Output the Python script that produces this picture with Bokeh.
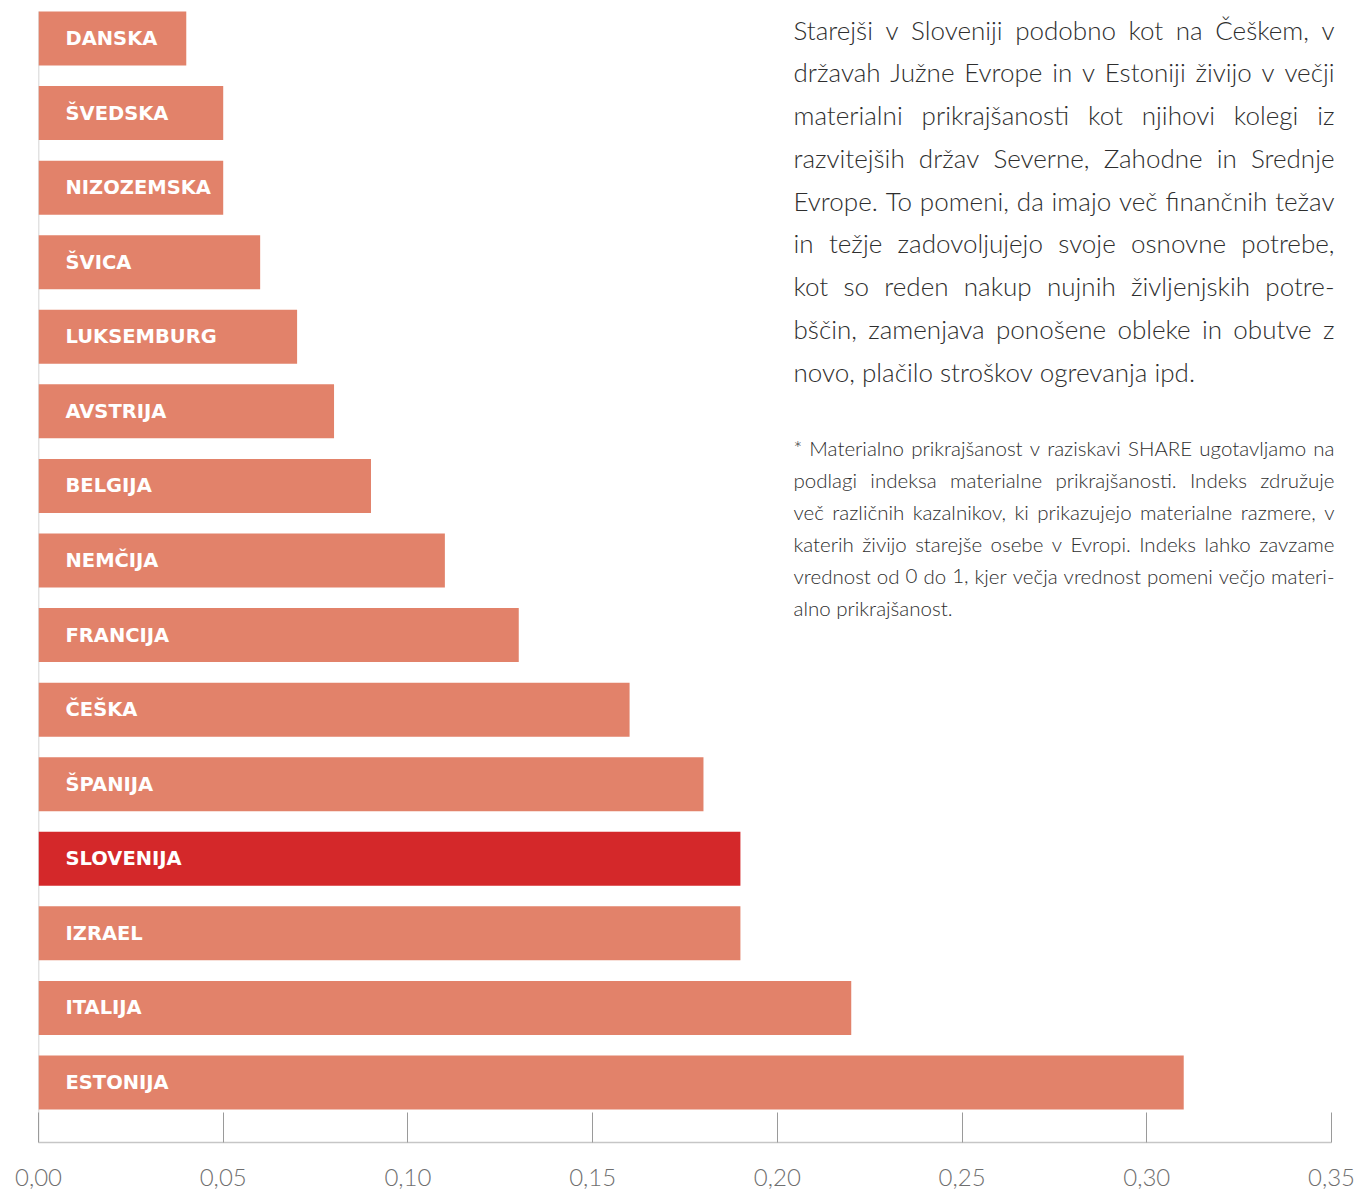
import os
import glob
import subprocess

from bokeh.plotting import figure
from bokeh.models import Range1d, FixedTicker, ColumnDataSource
from bokeh.core.properties import value
from bokeh.embed import file_html
from bokeh.resources import INLINE

# ---------------- data ----------------
countries = ["DANSKA", "ŠVEDSKA", "NIZOZEMSKA", "ŠVICA", "LUKSEMBURG", "AVSTRIJA",
             "BELGIJA", "NEMČIJA", "FRANCIJA", "ČEŠKA", "ŠPANIJA", "SLOVENIJA",
             "IZRAEL", "ITALIJA", "ESTONIJA"]
values = [0.04, 0.05, 0.05, 0.06, 0.07, 0.08, 0.09, 0.11, 0.13, 0.16, 0.18, 0.19,
          0.19, 0.22, 0.31]
highlight = "SLOVENIJA"

tick_values = [0.0, 0.05, 0.1, 0.15, 0.2, 0.25, 0.3, 0.35]
tick_labels = ["0,00", "0,05", "0,10", "0,15", "0,20", "0,25", "0,30", "0,35"]

paragraph_lines = [
    "Starejši v Sloveniji podobno kot na Češkem, v",
    "državah Južne Evrope in v Estoniji živijo v večji",
    "materialni prikrajšanosti kot njihovi kolegi iz",
    "razvitejših držav Severne, Zahodne in Srednje",
    "Evrope. To pomeni, da imajo več finančnih težav",
    "in težje zadovoljujejo svoje osnovne potrebe,",
    "kot so reden nakup nujnih življenjskih potre-",
    "bščin, zamenjava ponošene obleke in obutve z",
    "novo, plačilo stroškov ogrevanja ipd.",
]
footnote_lines = [
    "* Materialno prikrajšanost v raziskavi SHARE ugotavljamo na",
    "podlagi indeksa materialne prikrajšanosti. Indeks združuje",
    "več različnih kazalnikov, ki prikazujejo materialne razmere, v",
    "katerih živijo starejše osebe v Evropi. Indeks lahko zavzame",
    "vrednost od 0 do 1, kjer večja vrednost pomeni večjo materi-",
    "alno prikrajšanost.",
]

# ---------------- styling ----------------
BAR = "#E2826A"
HILITE = "#D4282A"
LABEL_FONT = "DejaVu Sans"
W, H = 1357, 1192
FRAME_L, FRAME_T, FRAME_B = 38, 0, 1142
AXIS_END_PX = 1331
PITCH = 74.57
FIRST_CENTER = 38.0
TEXT_L, TEXT_R = 793, 1334


def fc_file(pattern):
    try:
        r = subprocess.run(["fc-match", "-f", "%{file}", pattern],
                           capture_output=True, text=True, timeout=5)
        p = r.stdout.strip()
        if p and os.path.exists(p):
            return p
    except Exception:
        pass
    return None


# prefer a light weight of Lato for the body copy (closer to the reference)
light_path = fc_file("Lato:style=Light")
if light_path and "light" in os.path.basename(light_path).lower():
    TEXT_FONT = "Lato Light, Lato"
    body_path = light_path
else:
    TEXT_FONT = "Lato"
    body_path = fc_file("Lato:style=Regular")
if not body_path:
    hits = glob.glob("/usr/share/fonts/**/Lato*Regular*.ttf", recursive=True)
    body_path = hits[0] if hits else None


def make_measure(path):
    try:
        from PIL import ImageFont
        f = ImageFont.truetype(path, size=100)
        return lambda s: f.getlength(s) / 100.0
    except Exception:
        return lambda s: len(s) * 0.47


measure = make_measure(body_path)


def fit_size(lines, width, target):
    widest = max(measure(l) for l in lines[:-1])
    return min(target, width / widest)


def justify(lines, left, right, base0, step, size):
    xs, ys, ts = [], [], []
    for i, line in enumerate(lines):
        words = line.split(" ")
        y = base0 + i * step
        widths = [measure(w) * size for w in words]
        if i == len(lines) - 1 or len(words) == 1:
            gap = measure(" ") * size
        else:
            gap = (right - left - sum(widths)) / (len(words) - 1)
        x = left
        for w, wd in zip(words, widths):
            xs.append(x)
            ys.append(y)
            ts.append(w)
            x += wd + gap
    return dict(x=xs, y=ys, text=ts)


# ---------------- figure ----------------
idx = list(range(len(countries)))
y_top = -(FIRST_CENTER - FRAME_T) / PITCH
y_bot = (FRAME_B - FRAME_T - FIRST_CENTER) / PITCH
x_end = tick_values[-1] * (W - FRAME_L) / (AXIS_END_PX - FRAME_L)

p = figure(width=W, height=H, x_range=Range1d(0, x_end), y_range=Range1d(y_bot, y_top),
           output_backend="svg", toolbar_location=None, y_axis_location=None,
           title=None, min_border_left=FRAME_L, min_border_right=0,
           min_border_top=FRAME_T, min_border_bottom=H - FRAME_B)
p.extra_x_ranges = {"px": Range1d(FRAME_L, W)}
p.extra_y_ranges = {"px": Range1d(FRAME_B, FRAME_T)}
p.outline_line_color = None
p.xgrid.visible = False
p.ygrid.visible = False
p.background_fill_color = "white"
p.border_fill_color = "white"

colors = [HILITE if c == highlight else BAR for c in countries]
src = ColumnDataSource(dict(y=idx, v=values, c=colors, name=countries,
                            zero=[0.0] * len(idx)))

bar_h = 54 / PITCH
# left baseline line
p.segment(x0=[0], y0=[-bar_h / 2], x1=[0], y1=[y_bot], line_color="#c6c6c6",
          line_width=1.5)
p.hbar(y="y", left="zero", right="v", height=bar_h, fill_color="c", line_color=None,
       source=src)
p.text(x="zero", y="y", text="name", source=src, x_offset=27, text_baseline="middle",
       text_align="left", text_color="white", text_font=value(LABEL_FONT),
       text_font_style="bold", text_font_size=value("19.5px"))

# x axis
ax = p.xaxis[0]
ax.bounds = (tick_values[0], tick_values[-1])
ax.ticker = FixedTicker(ticks=tick_values)
ax.major_label_overrides = dict(zip(tick_values, tick_labels))
ax.axis_line_color = "#c6c6c6"
ax.axis_line_width = 1.5
ax.major_tick_line_color = "#9a9a9a"
ax.major_tick_line_width = 1
ax.major_tick_in = 30
ax.major_tick_out = 0
ax.minor_tick_line_color = None
ax.major_label_text_font = TEXT_FONT
ax.major_label_text_font_size = "24px"
ax.major_label_text_color = "#6f6f6f"
ax.major_label_standoff = 26

# right-hand text
para_size = fit_size(paragraph_lines, TEXT_R - TEXT_L, 26)
para = justify(paragraph_lines, TEXT_L, TEXT_R, 29, 42.75, para_size)
p.text(x="x", y="y", text="text", source=ColumnDataSource(para), x_range_name="px",
       y_range_name="px", text_font=value(TEXT_FONT),
       text_font_size=value("%.2fpx" % para_size), text_color="#2e2e2e",
       text_baseline="alphabetic", text_align="left")

foot_size = fit_size(footnote_lines, TEXT_R - TEXT_L, 20.5)
foot = justify(footnote_lines, TEXT_L, TEXT_R, 447.5, 32, foot_size)
p.text(x="x", y="y", text="text", source=ColumnDataSource(foot), x_range_name="px",
       y_range_name="px", text_font=value(TEXT_FONT),
       text_font_size=value("%.2fpx" % foot_size), text_color="#2e2e2e",
       text_baseline="alphabetic", text_align="left")

open("out.html", "w").write(file_html(p, INLINE))
